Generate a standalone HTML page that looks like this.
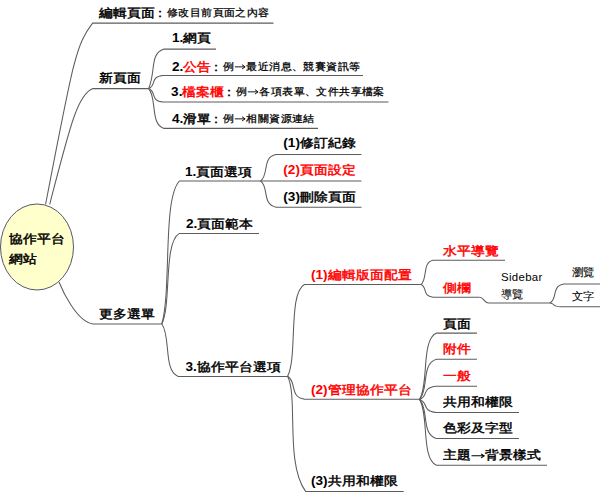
<!DOCTYPE html><html><head><meta charset="utf-8"><style>
html,body{margin:0;padding:0;background:#fff;width:600px;height:492px;overflow:hidden;position:relative}
body{font-family:"Liberation Sans",sans-serif;color:#000}
.t{position:absolute;white-space:nowrap;line-height:16px}
.b{font-size:13.6px;font-weight:bold}
.red{color:#ff0000}
.cj{display:inline-block;transform:scaleY(0.87);transform-origin:50% 70%;font-weight:normal;-webkit-text-stroke:0.5px currentColor}
.s{font-size:12px;display:inline-block;transform:scale(0.95,0.87);transform-origin:0 70%;position:relative;top:-0.8px;-webkit-text-stroke:0.3px currentColor}
.as{vertical-align:0px;margin:0 0.3px}
.cl{display:inline-block;margin-left:-2px;margin-right:-0.3px;transform:scale(0.9)}
.ab{vertical-align:0px;margin:0 0px}
</style></head><body>
<svg width="600" height="492" style="position:absolute;left:0;top:0"><ellipse cx="37" cy="247" rx="36.5" ry="43" fill="#ffffcc" stroke="#56566c" stroke-width="1"/><g fill="none" stroke="#5c5c5c" stroke-width="1.05"><path d="M45.60,204.30 C73.15,60.53 76.16,44.24 92.60,23.10 H273.5"/><path d="M49.70,204.30 C70.11,125.84 77.59,94.28 93.00,88.60 H148.6"/><path d="M59.00,282.00 C62.13,289.91 76.90,322.02 93.00,323.90 H161.8"/><path d="M148.60,88.60 C156.20,71.16 149.21,54.14 164.00,49.10 H216"/><path d="M148.60,88.60 C156.66,85.72 149.75,76.81 163.00,75.50 H363"/><path d="M148.60,88.60 C156.66,91.55 149.75,100.66 163.00,102.00 H388.5"/><path d="M148.60,88.60 C157.22,97.36 149.83,124.42 164.00,128.40 H318"/><path d="M161.80,324.00 C171.72,289.54 162.42,198.87 179.40,181.00 H260.5"/><path d="M161.80,324.00 C171.66,304.07 163.21,242.46 179.40,233.40 H259"/><path d="M161.80,324.00 C170.98,335.53 163.11,371.16 178.20,376.40 H288"/><path d="M260.50,181.00 C269.18,175.17 261.74,157.15 276.00,154.50 H361.5"/><path d="M260.5,181 H361.5"/><path d="M260.50,181.00 C269.18,186.76 261.74,204.58 276.00,207.20 H361.5"/><path d="M287.60,376.30 C297.66,357.35 288.03,293.08 304.40,284.50 H421"/><path d="M287.60,376.30 C297.01,381.34 288.94,396.91 304.40,399.20 H421"/><path d="M287.60,376.30 C298.28,397.22 284.97,463.25 305.60,491.40 H403.7"/><path d="M421.00,284.50 C427.72,279.15 421.96,262.63 433.00,260.20 H505"/><path d="M421.00,284.50 C427.72,287.29 421.96,295.93 433.00,297.20 H479.6"/><path d="M479.6,297.2 C484,297.2 483.5,303 489,303 H550"/><path d="M550.00,303.00 C557.84,298.82 551.12,285.90 564.00,284.00 H600"/><path d="M550.00,303.00 C556.16,303.84 550.88,306.42 561.00,306.80 H600"/><path d="M419.50,399.40 C429.02,384.81 420.86,339.73 436.50,333.10 H477"/><path d="M419.50,399.40 C429.02,390.58 420.86,363.31 436.50,359.30 H477"/><path d="M419.50,399.40 C429.02,396.50 420.86,387.52 436.50,386.20 H477"/><path d="M419.50,399.40 C429.02,402.26 420.86,411.10 436.50,412.40 H519"/><path d="M419.50,399.40 C429.02,408.00 420.86,434.59 436.50,438.50 H519"/><path d="M419.50,399.40 C429.02,413.90 420.86,458.71 436.50,465.30 H547"/></g></svg>
<div class="t" id="n1" style="left:99.30px;top:3.90px"><span class="b cj m">編輯頁面</span><span class="b cl">：</span><span class="s">修改目前頁面之內容</span></div>
<div class="t" id="n2" style="left:99.30px;top:69.00px"><span class="b cj m">新頁面</span></div>
<div class="t" id="n3" style="left:171.90px;top:29.40px"><span class="b">1.</span><span class="b cj m">網頁</span></div>
<div class="t" id="n4" style="left:172.00px;top:57.60px"><span class="b">2.</span><span class="b cj m red">公告</span><span class="b cl">：</span><span class="s">例<svg class="as" width="12" height="8" viewBox="0 0 12 8"><path d="M0.3,4.5 H11 M8,2 L11.3,4.5 L8,7" fill="none" stroke="currentColor" stroke-width="1"/></svg>最近消息、競賽資訊等</span></div>
<div class="t" id="n5" style="left:171.10px;top:83.15px"><span class="b">3.</span><span class="b cj m red">檔案櫃</span><span class="b cl">：</span><span class="s">例<svg class="as" width="12" height="8" viewBox="0 0 12 8"><path d="M0.3,4.5 H11 M8,2 L11.3,4.5 L8,7" fill="none" stroke="currentColor" stroke-width="1"/></svg>各項表單、文件共享檔案</span></div>
<div class="t" id="n6" style="left:172.00px;top:109.70px"><span class="b">4.</span><span class="b cj m">滑單</span><span class="b cl">：</span><span class="s">例<svg class="as" width="12" height="8" viewBox="0 0 12 8"><path d="M0.3,4.5 H11 M8,2 L11.3,4.5 L8,7" fill="none" stroke="currentColor" stroke-width="1"/></svg>相關資源連結</span></div>
<div class="t" id="n7" style="left:98.80px;top:305.40px"><span class="b cj m">更多選單</span></div>
<div class="t" id="n8" style="left:185.00px;top:163.05px"><span class="b">1.</span><span class="b cj m">頁面選項</span></div>
<div class="t" id="n9" style="left:186.00px;top:215.35px"><span class="b">2.</span><span class="b cj m">頁面範本</span></div>
<div class="t" id="n10" style="left:185.40px;top:357.60px"><span class="b">3.</span><span class="b cj m">協作平台選項</span></div>
<div class="t" id="n11" style="left:283.30px;top:134.40px"><span class="b">(1)</span><span class="b cj m">修訂紀錄</span></div>
<div class="t" id="n12" style="left:283.30px;top:161.15px"><span class="red"><span class="b">(2)</span><span class="b cj m">頁面設定</span></span></div>
<div class="t" id="n13" style="left:283.30px;top:187.50px"><span class="b">(3)</span><span class="b cj m">刪除頁面</span></div>
<div class="t" id="n14" style="left:311.00px;top:266.40px"><span class="red"><span class="b">(1)</span><span class="b cj m">編輯版面配置</span></span></div>
<div class="t" id="n15" style="left:311.00px;top:380.80px"><span class="red"><span class="b">(2)</span><span class="b cj m">管理協作平台</span></span></div>
<div class="t" id="n16" style="left:311.00px;top:472.00px"><span class="b">(3)</span><span class="b cj m">共用和權限</span></div>
<div class="t" id="n17" style="left:442.80px;top:241.70px"><span class="b cj m red">水平導覽</span></div>
<div class="t" id="n18" style="left:442.70px;top:279.00px"><span class="b cj m red">側欄</span></div>
<div class="t" id="n19a" style="left:501.10px;top:268.60px"><span class="s m" style="-webkit-text-stroke:0;letter-spacing:0.3px;font-size:11.45px;transform:none">Sidebar</span></div>
<div class="t" id="n19b" style="left:500.70px;top:285.70px"><span class="s m" style="transform:scale(0.95,0.93);-webkit-text-stroke:0.1px currentColor">導覽</span></div>
<div class="t" id="n20" style="left:571.70px;top:263.35px"><span class="s m" style="transform:scale(0.95,0.93);-webkit-text-stroke:0.1px currentColor">瀏覽</span></div>
<div class="t" id="n21" style="left:571.70px;top:287.65px"><span class="s m" style="transform:scale(0.95,0.93);-webkit-text-stroke:0.1px currentColor">文字</span></div>
<div class="t" id="n22" style="left:442.80px;top:315.10px"><span class="b cj m">頁面</span></div>
<div class="t" id="n23" style="left:442.80px;top:339.55px"><span class="b cj m red">附件</span></div>
<div class="t" id="n24" style="left:442.80px;top:367.30px"><span class="b cj m red">一般</span></div>
<div class="t" id="n25" style="left:442.80px;top:393.05px"><span class="b cj m">共用和權限</span></div>
<div class="t" id="n26" style="left:442.80px;top:419.05px"><span class="b cj m">色彩及字型</span></div>
<div class="t" id="n27" style="left:443.30px;top:446.00px"><span class="b cj m">主題<svg class="ab" width="14" height="8" viewBox="0 0 14 8"><path d="M0.5,4.5 H13 M10,2.2 L13.3,4.5 L10,6.8" fill="none" stroke="currentColor" stroke-width="1.15"/></svg>背景樣式</span></div>
<div class="t" id="root1" style="left:9.20px;top:230.10px"><span class="b cj m">協作平台</span></div>
<div class="t" id="root2" style="left:9.20px;top:250.20px"><span class="b cj m">網站</span></div>
</body></html>
